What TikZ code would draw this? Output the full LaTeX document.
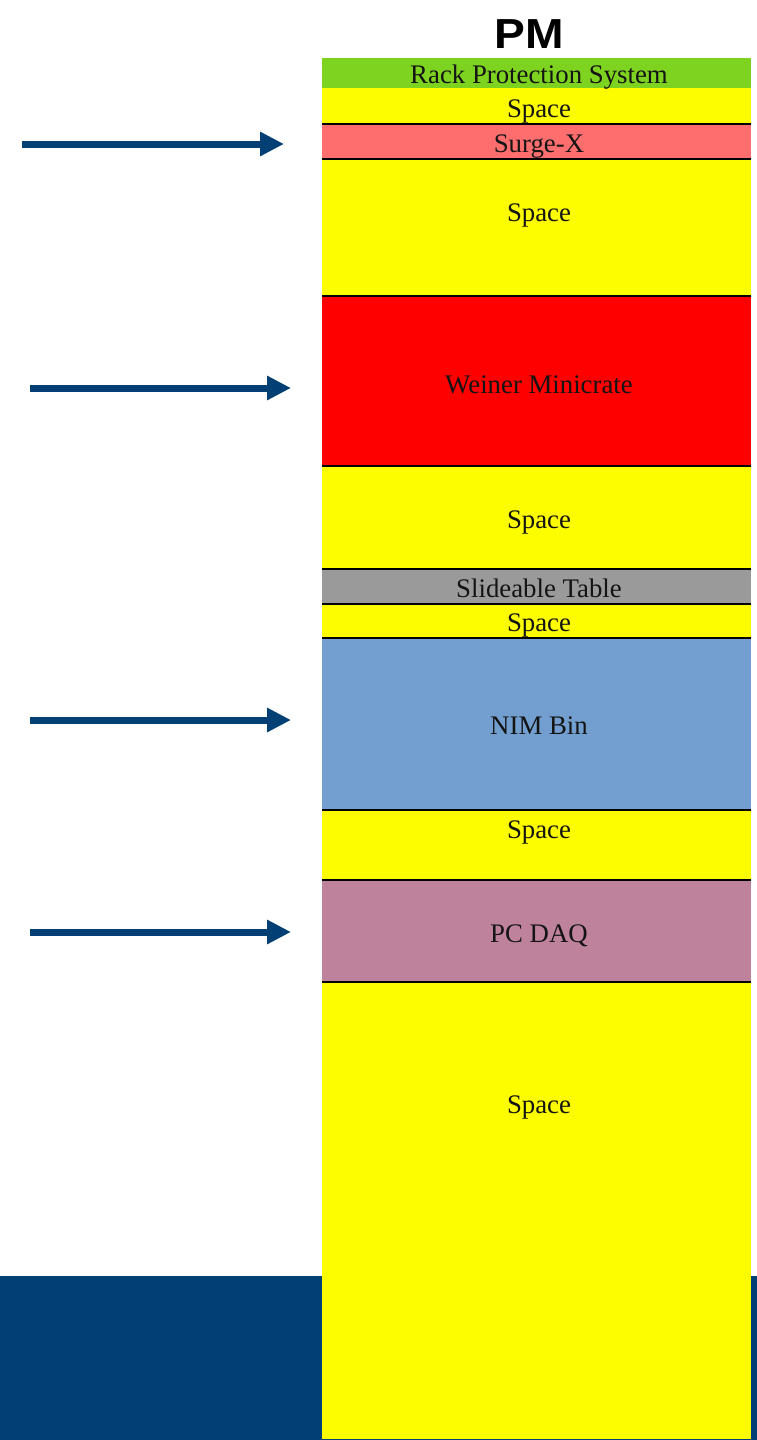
\documentclass[tikz,border=0pt]{standalone}
\usepackage{fontspec}
\setmainfont{Liberation Serif}
\newfontfamily\pmfont{Liberation Sans}
\usetikzlibrary{arrows.meta}
\definecolor{navy}{HTML}{023F74}
\definecolor{rpsgreen}{HTML}{7ED321}
\definecolor{spaceyellow}{HTML}{FDFD00}
\definecolor{surgered}{HTML}{FF6E6E}
\definecolor{weinerred}{HTML}{FF0000}
\definecolor{tablegray}{HTML}{9A9A9A}
\definecolor{nimblue}{HTML}{729FCF}
\definecolor{daqpink}{HTML}{BF829C}
\definecolor{labeltext}{HTML}{141414}
\tikzset{
  band/.style={draw=none, inner sep=0pt, outer sep=0pt, minimum width=429pt, anchor=north west},
  lbl/.style={anchor=base, inner sep=0pt, text=labeltext, font=\fontsize{26.8}{30}\selectfont},
  divider/.style={draw=black, line width=2pt},
  pointer/.style={draw=navy, line width=7pt, -{Triangle[length=24pt,width=23pt]}},
}
\begin{document}
\begin{tikzpicture}[x=1pt,y=-1pt]
\useasboundingbox (0,0) rectangle (757,1440);
% bottom navy band
\fill[navy] (0,1276) rectangle (757,1440);
% rack bands
\node[band, fill=rpsgreen, minimum height=30pt] (rps) at (322,58) {};
\node[band, fill=spaceyellow, minimum height=36pt] (sp1) at (322,88) {};
\node[band, fill=surgered, minimum height=35pt] (surge) at (322,124) {};
\node[band, fill=spaceyellow, minimum height=137pt] (sp2) at (322,159) {};
\node[band, fill=weinerred, minimum height=170pt] (weiner) at (322,296) {};
\node[band, fill=spaceyellow, minimum height=103pt] (sp3) at (322,466) {};
\node[band, fill=tablegray, minimum height=35pt] (table) at (322,569) {};
\node[band, fill=spaceyellow, minimum height=34pt] (sp4) at (322,604) {};
\node[band, fill=nimblue, minimum height=172pt] (nim) at (322,638) {};
\node[band, fill=spaceyellow, minimum height=70pt] (sp5) at (322,810) {};
\node[band, fill=daqpink, minimum height=102pt] (daq) at (322,880) {};
\node[band, fill=spaceyellow, minimum height=457pt] (sp6) at (322,982) {};
% dividers
\foreach \b in {surge,sp2,weiner,sp3,table,sp4,nim,sp5,daq,sp6}
  \draw[divider] (\b.north west) -- (\b.north east);
% labels
\node[anchor=base, inner sep=0pt, font=\pmfont\bfseries\fontsize{42}{48}\selectfont] (pm) at (529,48) {\scalebox{1.1}[1]{PM}};
\node[lbl] (lrps) at (539,83) {Rack Protection System};
\node[lbl] (lsp1) at (539,117) {Space};
\node[lbl] (lsurge) at (539,152) {Surge-X};
\node[lbl] (lsp2) at (539,221) {Space};
\node[lbl] (lweiner) at (539,393) {Weiner Minicrate};
\node[lbl] (lsp3) at (539,528) {Space};
\node[lbl] (ltable) at (539,597) {Slideable Table};
\node[lbl] (lsp4) at (539,631) {Space};
\node[lbl] (lnim) at (539,734) {NIM Bin};
\node[lbl] (lsp5) at (539,838) {Space};
\node[lbl] (ldaq) at (539,942) {PC DAQ};
\node[lbl] (lsp6) at (539,1113) {Space};
% arrows
\coordinate (a1s) at (22,144);  \coordinate (a1e) at (284,144);
\coordinate (a2s) at (30,388);  \coordinate (a2e) at (291,388);
\coordinate (a3s) at (30,720);  \coordinate (a3e) at (291,720);
\coordinate (a4s) at (30,932);  \coordinate (a4e) at (291,932);
\draw[pointer] (a1s) -- (a1e);
\draw[pointer] (a2s) -- (a2e);
\draw[pointer] (a3s) -- (a3e);
\draw[pointer] (a4s) -- (a4e);
\end{tikzpicture}
\end{document}
